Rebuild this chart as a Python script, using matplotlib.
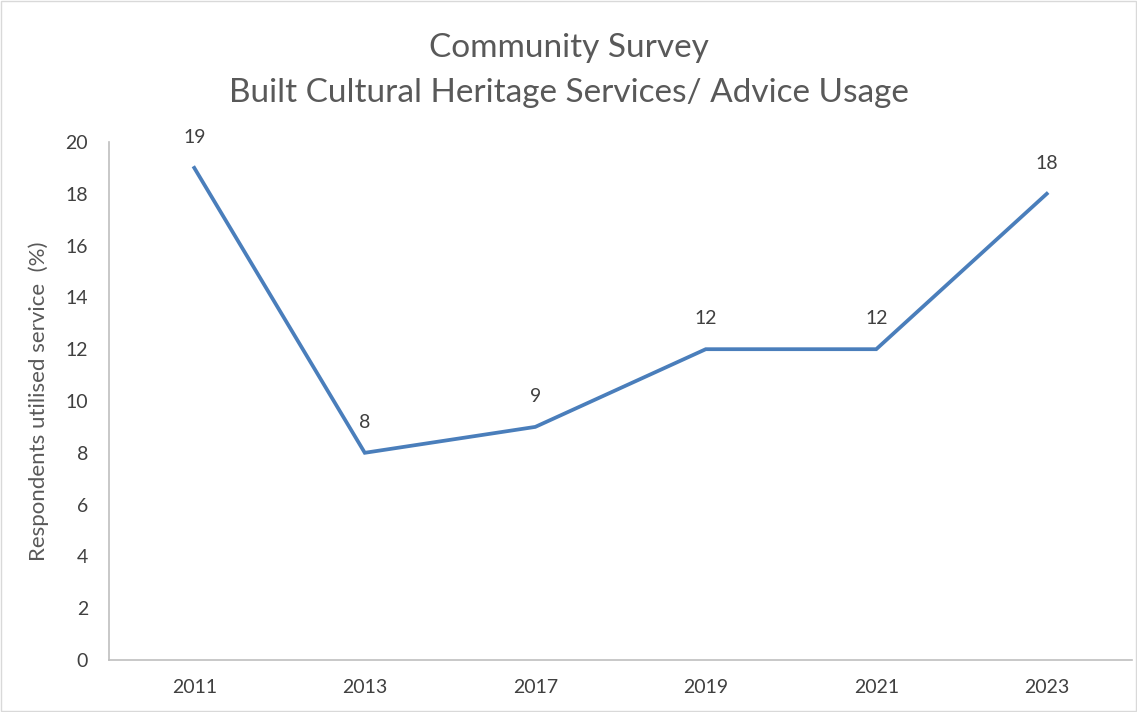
import matplotlib
matplotlib.use("Agg")
import matplotlib.pyplot as plt
from matplotlib.patches import Rectangle

years = ["2011", "2013", "2017", "2019", "2021", "2023"]
pct = [19, 8, 9, 12, 12, 18]
yticks = list(range(0, 21, 2))

plt.rcParams["font.family"] = ["Lato", "DejaVu Sans"]
GREY = "#595959"

fig = plt.figure(figsize=(11.37, 7.12), dpi=100)
ax = fig.add_axes([0.0959, 0.073, 0.8997, 0.7276])
x = range(len(years))
ax.plot(x, pct, color="#4A7EBB", lw=2.7, solid_joinstyle="miter")
for xi, v in zip(x, pct):
    ax.annotate(str(v), (xi, v), xytext=(0, 16), textcoords="offset points",
                ha="center", va="bottom", fontsize=14, color="#404040")

ax.set_xlim(-0.5, len(years) - 0.5)
ax.set_ylim(0, 20)
ax.set_xticks(list(x)); ax.set_xticklabels(years)
ax.set_yticks(yticks)
ax.tick_params(axis="both", colors=GREY, labelsize=14, length=0)
ax.tick_params(axis="x", labelcolor="#404040", pad=14)
ax.tick_params(axis="y", labelcolor="#404040", pad=15)
for s in ["top", "right"]:
    ax.spines[s].set_visible(False)
for s in ["left", "bottom"]:
    ax.spines[s].set_color("#BFBFBF")
    ax.spines[s].set_linewidth(1.2)
ax.set_ylabel("Respondents utilised service  (%)", fontsize=16, color=GREY, labelpad=12)

fig.text(0.5, 0.933, "Community Survey", ha="center", va="center", fontsize=24, color=GREY)
fig.text(0.5, 0.869, "Built Cultural Heritage Services/ Advice Usage", ha="center",
         va="center", fontsize=24, color=GREY)
fig.patches.append(Rectangle((0.001, 0.001), 0.998, 0.998, transform=fig.transFigure,
                             fill=False, edgecolor="#D9D9D9", lw=1))

fig.savefig("out.png", dpi=100)
